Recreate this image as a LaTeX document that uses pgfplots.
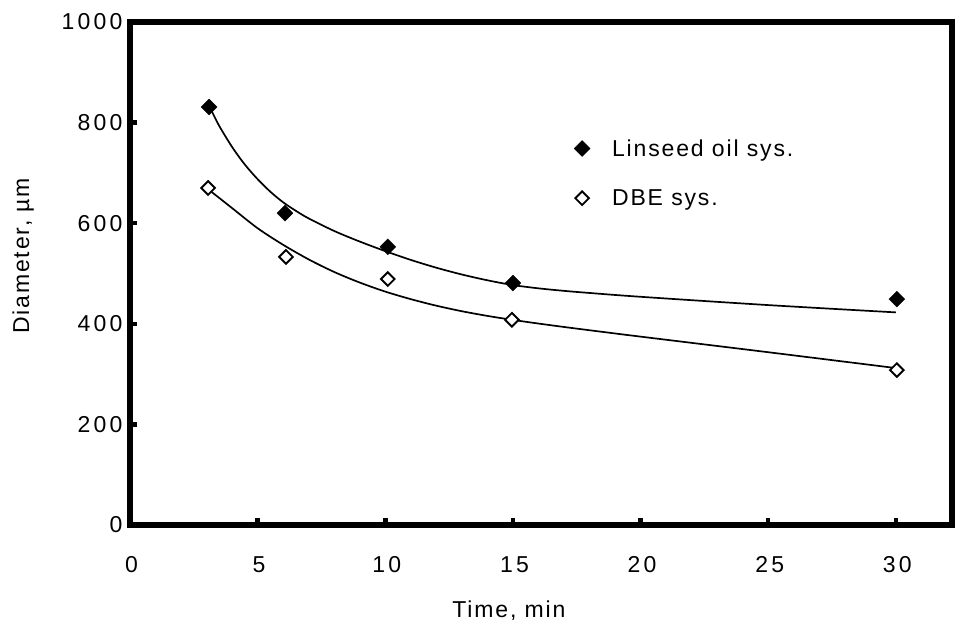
\documentclass[border=0pt]{standalone}
\usepackage{pgfplots}
\pgfplotsset{compat=1.18}
\usepackage{fontspec}
\setmainfont{Liberation Sans}[LetterSpace=8]
\newfontfamily\tickfont{Liberation Sans}[LetterSpace=14]
\begin{document}
\begin{tikzpicture}
\begin{axis}[
  scale only axis, width=822pt, height=503pt,
  xmin=0, xmax=32.2, ymin=0, ymax=1000,
  xtick={0,5,10,15,20,25,30}, ytick={0,200,400,600,800,1000},
  tick pos=left, tick align=inside,
  major tick length=7pt,
  every tick/.style={line width=4.5pt, black},
  axis line style={line width=6.5pt, line cap=rect},
  /pgf/number format/assume math mode=true,
  /pgf/number format/1000 sep={},
  xticklabel style={font=\tickfont\fontsize{23}{27}\selectfont, anchor=base, yshift=-47pt, xshift=1.5pt},
  yticklabel style={font=\tickfont\fontsize{23}{27}\selectfont, anchor=east, xshift=-4pt},
  xlabel={Time, min}, ylabel={Diameter, µm},
  label style={font=\fontsize{23}{27}\selectfont},
  xlabel style={at={(axis description cs:0.461,-0.183)}, anchor=base},
  ylabel style={at={(axis description cs:-0.130,0.535)}, anchor=center, rotate=0},
  legend image code/.code={\draw[#1] plot coordinates {(0pt,0pt)}; \path[draw=none,fill=none] (-8pt,0pt) -- (30pt,0pt);},
  legend style={at={(axis cs:17.39,767)}, anchor=north west, draw=none, fill=none,
    inner sep=0pt, row sep=32pt, font=\fontsize{23}{27}\selectfont,
    nodes={inner sep=0pt, anchor=west}},
  legend cell align=left,
]
% fitted curves
\addplot[black, line width=1.7pt, smooth, forget plot] coordinates {
 (3.2,823) (3.5,793) (4,751.5) (4.5,716.5) (5,687.5) (5.5,662.5) (6,641.5)
 (6.5,624.5) (7,609.5) (8,584.5) (9,563.5) (10,544.5) (11,527) (12,511.5)
 (13,498) (14,486.5) (15,477) (16,470.5) (17,465.5) (18,461.3) (20,453.7)
 (25,437.2) (30,422.7)};
\addplot[black, line width=1.7pt, smooth, forget plot] coordinates {
 (3.1,666) (4,630) (5,590) (6,557) (7,528) (8,503) (9,482) (10,464)
 (11,449) (12,436) (13,425) (14,415.7) (15,407.7) (16,400.5) (17,393.7)
 (18,387.2) (19,380.8) (20,374.5) (25,343.5) (30,312)};
% data points
\addplot[only marks, mark=square*, mark size=5.6pt,
  mark options={rotate=45, fill=black, draw=black}] coordinates {
 (3.1,831) (6.07,620) (10.1,553) (15,481) (30.04,449)};
\addlegendentry{Linseed oil sys.}
\addplot[only marks, mark=square*, mark size=4.8pt,
  mark options={rotate=45, fill=white, draw=black, line width=1.9pt}] coordinates {
 (3.06,670) (6.11,533) (10.1,489) (14.96,408) (30.04,308)};
\addlegendentry{DBE sys.}
\end{axis}
\pgfresetboundingbox
\path ([shift={(-130pt,-104pt)}]current axis.south west) rectangle ([shift={(4pt,22pt)}]current axis.north east);
\end{tikzpicture}
\end{document}
